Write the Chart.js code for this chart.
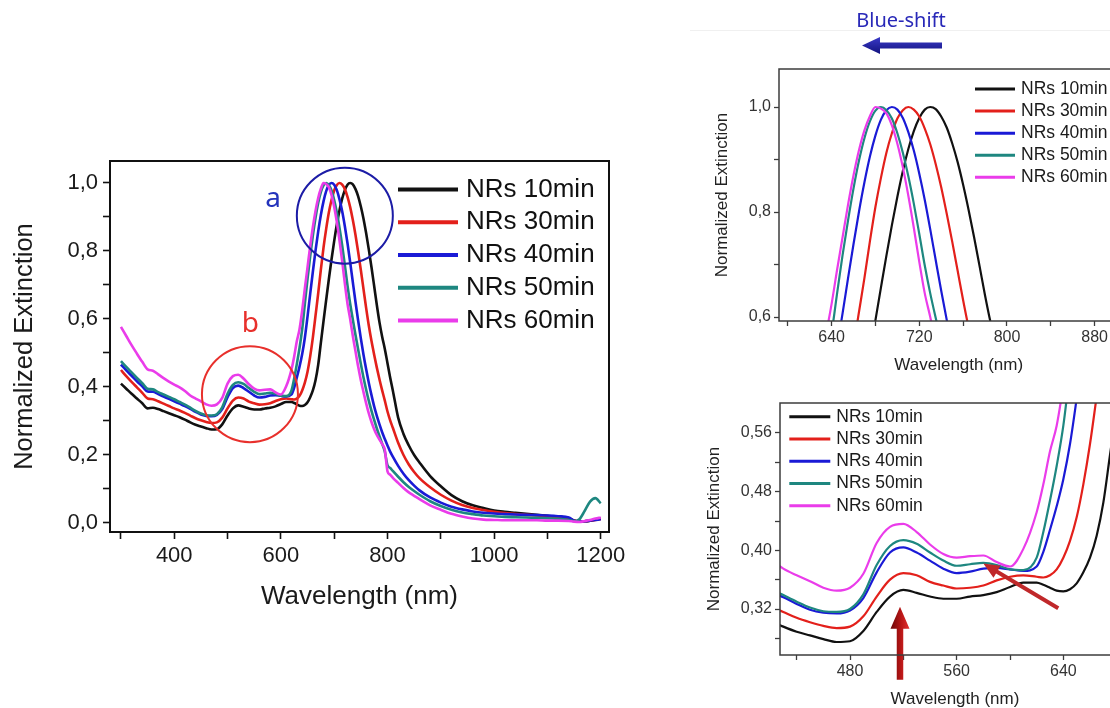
<!DOCTYPE html>
<html>
<head>
<meta charset="utf-8">
<script src="https://cdn.jsdelivr.net/npm/chart.js@4.4.1/dist/chart.umd.min.js"></script>
<style>
  html, body { margin: 0; padding: 0; background: #fff; }
  body { width: 1110px; height: 708px; overflow: hidden; position: relative; }
  .panel { position: absolute; }
  #rule { position: absolute; left: 690px; top: 30px; width: 420px; height: 1px; background: #f0f0f0; }
  #shift { position: absolute; left: 801px; top: 10px; width: 200px; text-align: center;
           font: 20px/20px "Noto Sans", sans-serif; color: #2828b8; }
  #shiftArrow { position: absolute; left: 855px; top: 30px; }
</style>
</head>
<body>
<div id="rule"></div>
<div class="panel" style="left:0;top:120px"><canvas id="main" width="640" height="510"></canvas></div>
<div class="panel" style="left:690px;top:0"><canvas id="peak" width="460" height="390"></canvas></div>
<div class="panel" style="left:690px;top:380px"><canvas id="band" width="460" height="340"></canvas></div>
<div id="shift">Blue-shift</div>
<svg id="shiftArrow" width="95" height="32">
  <defs>
    <linearGradient id="navy" x1="0" y1="0" x2="0" y2="1">
      <stop offset="0" stop-color="#3a3ac8"/>
      <stop offset="1" stop-color="#12127e"/>
    </linearGradient>
  </defs>
  <polygon points="7,15.5 25,7 25,12.5 87,12.5 87,18.5 25,18.5 25,24" fill="url(#navy)"/>
</svg>
<script>
// extinction spectra, normalized to the longitudinal peak
const wavelength = [
  300, 310, 320, 330, 340, 350, 360, 370, 380, 390,
  400, 410, 420, 430, 440, 450, 460, 470, 480, 490,
  500, 510, 520, 530, 540, 550, 560, 570, 580, 590,
  600, 610, 620, 625, 630, 635, 640, 645, 650, 655,
  660, 665, 670, 675, 680, 685, 690, 695, 700, 705,
  710, 715, 720, 725, 730, 735, 740, 745, 750, 755,
  760, 765, 770, 775, 780, 785, 790, 795, 800, 805,
  810, 820, 830, 840, 850, 860, 880, 900, 920, 940,
  960, 980, 1000, 1020, 1040, 1060, 1080, 1100, 1120, 1140,
  1150, 1160, 1170, 1180, 1190, 1200
];

const nrs10 = [
  0.410, 0.395, 0.380, 0.366, 0.352, 0.337, 0.339, 0.335, 0.329, 0.323,
  0.317, 0.311, 0.304, 0.296, 0.289, 0.284, 0.279, 0.275, 0.276, 0.290,
  0.316, 0.337, 0.346, 0.342, 0.337, 0.334, 0.334, 0.337, 0.339, 0.343,
  0.350, 0.356, 0.356, 0.353, 0.349, 0.345, 0.344, 0.347, 0.355, 0.370,
  0.390, 0.420, 0.465, 0.530, 0.594, 0.656, 0.717, 0.775, 0.829, 0.878,
  0.920, 0.954, 0.979, 0.995, 1.000, 0.996, 0.982, 0.961, 0.931, 0.895,
  0.852, 0.804, 0.752, 0.697, 0.641, 0.590, 0.548, 0.512, 0.470, 0.428,
  0.390, 0.310, 0.262, 0.228, 0.200, 0.178, 0.138, 0.108, 0.082, 0.064,
  0.052, 0.044, 0.037, 0.033, 0.030, 0.027, 0.024, 0.021, 0.018, 0.014,
  0.007, 0.004, 0.005, 0.007, 0.010, 0.013
];

const nrs30 = [
  0.450, 0.432, 0.415, 0.399, 0.383, 0.366, 0.364, 0.358, 0.351, 0.344,
  0.337, 0.331, 0.324, 0.316, 0.308, 0.302, 0.297, 0.294, 0.296, 0.310,
  0.337, 0.360, 0.369, 0.366, 0.357, 0.352, 0.348, 0.349, 0.352, 0.359,
  0.364, 0.366, 0.364, 0.363, 0.366, 0.374, 0.390, 0.413, 0.445, 0.490,
  0.545, 0.610, 0.675, 0.745, 0.810, 0.865, 0.913, 0.950, 0.978, 0.994,
  1.000, 0.995, 0.982, 0.959, 0.929, 0.891, 0.847, 0.797, 0.744, 0.688,
  0.632, 0.580, 0.535, 0.495, 0.457, 0.422, 0.390, 0.360, 0.328, 0.302,
  0.280, 0.236, 0.200, 0.172, 0.150, 0.132, 0.105, 0.083, 0.066, 0.053,
  0.044, 0.038, 0.033, 0.029, 0.026, 0.024, 0.022, 0.020, 0.018, 0.014,
  0.007, 0.004, 0.005, 0.007, 0.009, 0.012
];

const nrs40 = [
  0.466, 0.449, 0.433, 0.417, 0.402, 0.387, 0.386, 0.379, 0.372, 0.365,
  0.358, 0.351, 0.344, 0.336, 0.327, 0.319, 0.315, 0.314, 0.318, 0.335,
  0.370, 0.397, 0.404, 0.397, 0.386, 0.375, 0.369, 0.371, 0.375, 0.376,
  0.374, 0.372, 0.378, 0.398, 0.428, 0.460, 0.497, 0.545, 0.607, 0.674,
  0.739, 0.801, 0.857, 0.906, 0.946, 0.976, 0.994, 1.000, 0.995, 0.979,
  0.952, 0.917, 0.873, 0.823, 0.767, 0.708, 0.650, 0.595, 0.543, 0.495,
  0.452, 0.412, 0.376, 0.343, 0.315, 0.290, 0.267, 0.247, 0.228, 0.210,
  0.195, 0.168, 0.145, 0.126, 0.110, 0.096, 0.075, 0.060, 0.048, 0.040,
  0.034, 0.030, 0.028, 0.026, 0.025, 0.024, 0.023, 0.022, 0.020, 0.016,
  0.007, 0.004, 0.005, 0.007, 0.009, 0.011
];

const nrs50 = [
  0.476, 0.459, 0.443, 0.427, 0.411, 0.395, 0.393, 0.385, 0.378, 0.371,
  0.364, 0.356, 0.348, 0.339, 0.330, 0.322, 0.317, 0.316, 0.320, 0.340,
  0.380, 0.406, 0.414, 0.409, 0.397, 0.386, 0.379, 0.381, 0.383, 0.380,
  0.374, 0.373, 0.390, 0.425, 0.468, 0.515, 0.570, 0.645, 0.718, 0.784,
  0.845, 0.898, 0.941, 0.973, 0.993, 1.000, 0.994, 0.978, 0.950, 0.913,
  0.868, 0.816, 0.758, 0.698, 0.645, 0.598, 0.553, 0.510, 0.468, 0.428,
  0.392, 0.359, 0.330, 0.303, 0.278, 0.255, 0.233, 0.210, 0.170, 0.162,
  0.153, 0.136, 0.120, 0.106, 0.094, 0.083, 0.064, 0.050, 0.039, 0.031,
  0.026, 0.022, 0.020, 0.018, 0.017, 0.016, 0.015, 0.014, 0.012, 0.009,
  0.005, 0.011, 0.036, 0.063, 0.073, 0.058
];

const nrs60 = [
  0.577, 0.550, 0.523, 0.498, 0.474, 0.452, 0.448, 0.437, 0.426, 0.416,
  0.407, 0.399, 0.388, 0.375, 0.366, 0.358, 0.349, 0.345, 0.349, 0.368,
  0.410, 0.432, 0.436, 0.425, 0.408, 0.395, 0.390, 0.392, 0.393, 0.384,
  0.378, 0.402, 0.452, 0.490, 0.535, 0.570, 0.625, 0.690, 0.752, 0.814,
  0.870, 0.918, 0.956, 0.983, 1.000, 0.997, 0.988, 0.965, 0.930, 0.885,
  0.831, 0.770, 0.705, 0.645, 0.600, 0.550, 0.505, 0.460, 0.420, 0.385,
  0.352, 0.322, 0.297, 0.276, 0.259, 0.245, 0.232, 0.215, 0.152, 0.142,
  0.133, 0.118, 0.103, 0.090, 0.080, 0.070, 0.052, 0.039, 0.027, 0.019,
  0.013, 0.010, 0.009, 0.008, 0.008, 0.008, 0.008, 0.007, 0.007, 0.006,
  0.004, 0.003, 0.006, 0.009, 0.013, 0.016
];

const series = [nrs10, nrs30, nrs40, nrs50, nrs60];
const seriesLabels = ["NRs 10min", "NRs 30min", "NRs 40min", "NRs 50min", "NRs 60min"];
const seriesColors = ["#111111", "#e3201b", "#1a1ad6", "#1e8780", "#ea3cea"];

// tick positions (major ones get a label)
const mainXMajor = [400, 600, 800, 1000, 1200];
const mainXMinor = [300, 500, 700, 900, 1100];
const mainYMajor = [0, 0.2, 0.4, 0.6, 0.8, 1.0];
const mainYMinor = [0.1, 0.3, 0.5, 0.7, 0.9];
const peakXMajor = [640, 720, 800, 880];
const peakXMinor = [600, 680, 760, 840, 920];
const peakYMajor = [0.6, 0.8, 1.0];
const peakYMinor = [0.7, 0.9];
const bandXMajor = [480, 560, 640];
const bandXMinor = [440, 520, 600, 680];
const bandYMajor = [0.32, 0.40, 0.48, 0.56];
const bandYMinor = [0.28, 0.36, 0.44, 0.52];

const FONT = '"Liberation Sans", Arial, sans-serif';
const comma = d => v => v.toFixed(d).replace(".", ",");

function datasets(width) {
  return series.map((vals, i) => ({
    label: seriesLabels[i],
    data: wavelength.map((w, j) => ({ x: w, y: vals[j] })),
    borderColor: seriesColors[i],
    borderWidth: width,
    pointRadius: 0,
    cubicInterpolationMode: "monotone",
    order: series.length - i,
  }));
}

function axis(o) {
  const all = [...o.major, ...o.minor].sort((a, b) => a - b);
  return {
    type: "linear",
    min: o.min,
    max: o.max,
    afterBuildTicks: s => { s.ticks = all.map(v => ({ value: v })); },
    afterFit: s => { if (o.width) s.width = o.width; if (o.height) s.height = o.height; },
    ticks: {
      autoSkip: false, maxRotation: 0, minRotation: 0,
      padding: o.pad, color: o.tickColor,
      font: { family: FONT, size: o.tickSize },
      callback: v => (o.major.includes(v) ? o.fmt(v) : ""),
    },
    grid: { drawOnChartArea: false, drawTicks: true, tickLength: o.tickLen, tickWidth: o.tickWidth, tickColor: o.line },
    border: { display: false },
    title: {
      display: true, text: o.title, color: o.titleColor,
      font: { family: FONT, size: o.titleSize },
      padding: { top: o.titlePad, bottom: o.titlePad },
    },
  };
}

// box around the plot area
const frame = {
  id: "frame",
  afterDraw(chart, args, opts) {
    const { ctx, chartArea: a } = chart;
    ctx.save();
    ctx.strokeStyle = opts.color;
    ctx.lineWidth = opts.width;
    ctx.strokeRect(a.left, a.top, a.right - a.left, a.bottom - a.top);
    ctx.restore();
  },
};

// legend drawn inside the plot area
const insetLegend = {
  id: "insetLegend",
  afterDatasetsDraw(chart, args, opts) {
    const { ctx, chartArea: a } = chart;
    ctx.save();
    ctx.font = opts.font;
    ctx.textBaseline = "middle";
    ctx.textAlign = "left";
    chart.data.datasets.forEach((ds, i) => {
      const y = a.top + opts.top + i * opts.row;
      const x0 = a.left + opts.left;
      ctx.strokeStyle = ds.borderColor;
      ctx.lineWidth = opts.lineWidth;
      ctx.beginPath();
      ctx.moveTo(x0, y);
      ctx.lineTo(x0 + opts.len, y);
      ctx.stroke();
      ctx.fillStyle = opts.color;
      ctx.fillText(ds.label, x0 + opts.len + opts.gap, y);
    });
    ctx.restore();
  },
};

function drawArrow(ctx, x0, y0, x1, y1, a) {
  const ang = Math.atan2(y1 - y0, x1 - x0);
  const len = Math.hypot(x1 - x0, y1 - y0);
  ctx.save();
  ctx.translate(x0, y0);
  ctx.rotate(ang);
  if (a.shade) {
    const g = ctx.createLinearGradient(0, -a.headW / 2, 0, a.headW / 2);
    g.addColorStop(0, "#6a0606");
    g.addColorStop(0.55, "#b81616");
    g.addColorStop(1, "#e23030");
    ctx.fillStyle = g;
  } else {
    ctx.fillStyle = a.color;
  }
  ctx.beginPath();
  ctx.moveTo(0, -a.shaft / 2);
  ctx.lineTo(len - a.headLen, -a.shaft / 2);
  ctx.lineTo(len - a.headLen, -a.headW / 2);
  ctx.lineTo(len, 0);
  ctx.lineTo(len - a.headLen, a.headW / 2);
  ctx.lineTo(len - a.headLen, a.shaft / 2);
  ctx.lineTo(0, a.shaft / 2);
  ctx.closePath();
  ctx.fill();
  ctx.restore();
}

// rings, letters and arrows placed in data coordinates
const marks = {
  id: "marks",
  afterDatasetsDraw(chart, args, opts) {
    const { ctx, scales: { x, y } } = chart;
    ctx.save();
    (opts.rings || []).forEach(r => {
      ctx.strokeStyle = r.color;
      ctx.lineWidth = r.width;
      ctx.beginPath();
      ctx.arc(x.getPixelForValue(r.x), y.getPixelForValue(r.y), r.radius, 0, Math.PI * 2);
      ctx.stroke();
    });
    (opts.letters || []).forEach(t => {
      ctx.fillStyle = t.color;
      ctx.font = t.font;
      ctx.textAlign = "center";
      ctx.textBaseline = "alphabetic";
      ctx.fillText(t.text, x.getPixelForValue(t.x), y.getPixelForValue(t.y));
    });
    (opts.arrows || []).forEach(a => {
      drawArrow(ctx, x.getPixelForValue(a.from[0]), y.getPixelForValue(a.from[1]),
        x.getPixelForValue(a.to[0]), y.getPixelForValue(a.to[1]), a);
    });
    ctx.restore();
  },
};

function build(id, cfg) {
  return new Chart(document.getElementById(id), {
    type: "line",
    data: { datasets: datasets(cfg.lineWidth) },
    plugins: [frame, insetLegend, marks],
    options: {
      responsive: false,
      animation: false,
      events: [],
      layout: { autoPadding: false, padding: cfg.padding },
      scales: { x: axis(cfg.x), y: axis(cfg.y) },
      plugins: {
        legend: { display: false },
        tooltip: { enabled: false },
        frame: cfg.frame,
        insetLegend: cfg.legend,
        marks: cfg.marks || {},
      },
    },
  });
}

// full spectrum
build("main", {
  lineWidth: 2.6,
  padding: { top: 41, bottom: 18, left: 0, right: 31 },
  frame: { color: "#111", width: 2 },
  x: { min: 279.5, max: 1215.5, major: mainXMajor, minor: mainXMinor, fmt: v => String(v),
       height: 80, pad: 4, tickLen: 7, tickWidth: 1.6, line: "#111", tickColor: "#1a1a1a", tickSize: 22,
       title: "Wavelength (nm)", titleColor: "#1a1a1a", titleSize: 26, titlePad: 0 },
  y: { min: -0.0265, max: 1.0647, major: mainYMajor, minor: mainYMinor, fmt: comma(1),
       width: 110, pad: 5, tickLen: 7, tickWidth: 1.6, line: "#111", tickColor: "#1a1a1a", tickSize: 22,
       title: "Normalized Extinction", titleColor: "#1a1a1a", titleSize: 25.5, titlePad: 10 },
  legend: { left: 288, top: 28.5, row: 32.75, len: 60, gap: 8, lineWidth: 4,
            font: '26px "Liberation Sans", Arial, sans-serif', color: "#111" },
  marks: {
    rings: [
      { x: 720, y: 0.904, radius: 48, color: "#1c1ca6", width: 2 },
      { x: 542, y: 0.379, radius: 48, color: "#e8302c", width: 2 },
    ],
    letters: [
      { text: "a", x: 585.6, y: 0.930, color: "#2434bc", font: '28px "Noto Sans", sans-serif' },
      { text: "b", x: 542.8, y: 0.5626, color: "#e8302c", font: '28px "Noto Sans", sans-serif' },
    ],
  },
});

// longitudinal band close-up
build("peak", {
  lineWidth: 2.2,
  padding: { top: 69, bottom: 9, left: 0, right: 11.5 },
  frame: { color: "#3c3c3c", width: 1.5 },
  x: { min: 592, max: 920, major: peakXMajor, minor: peakXMinor, fmt: v => String(v),
       height: 60, pad: 2, tickLen: 5, tickWidth: 1.3, line: "#3c3c3c", tickColor: "#333", tickSize: 16,
       title: "Wavelength (nm)", titleColor: "#222", titleSize: 17, titlePad: 5.4 },
  y: { min: 0.5924, max: 1.0724, major: peakYMajor, minor: peakYMinor, fmt: comma(1),
       width: 89, pad: 3, tickLen: 5, tickWidth: 1.3, line: "#3c3c3c", tickColor: "#333", tickSize: 16,
       title: "Normalized Extinction", titleColor: "#222", titleSize: 17, titlePad: 22.5 },
  legend: { left: 196, top: 20, row: 22.07, len: 40, gap: 6, lineWidth: 3,
            font: '17.5px "Liberation Sans", Arial, sans-serif', color: "#1a1a1a" },
});

// transverse band close-up
build("band", {
  lineWidth: 2.2,
  padding: { top: 23, bottom: 0, left: 0, right: 20 },
  frame: { color: "#3c3c3c", width: 1.5 },
  x: { min: 427.5, max: 690, major: bandXMajor, minor: bandXMinor, fmt: v => String(v),
       height: 65, pad: 2, tickLen: 5, tickWidth: 1.3, line: "#3c3c3c", tickColor: "#333", tickSize: 16,
       title: "Wavelength (nm)", titleColor: "#222", titleSize: 17, titlePad: 10.4 },
  y: { min: 0.2573, max: 0.6009, major: bandYMajor, minor: bandYMinor, fmt: comma(2),
       width: 90, pad: 3, tickLen: 5, tickWidth: 1.3, line: "#3c3c3c", tickColor: "#333", tickSize: 16,
       title: "Normalized Extinction", titleColor: "#222", titleSize: 17, titlePad: 14.2 },
  legend: { left: 9.3, top: 13.7, row: 22.25, len: 41, gap: 6, lineWidth: 3,
            font: '17.5px "Liberation Sans", Arial, sans-serif', color: "#1a1a1a" },
  marks: {
    arrows: [
      { from: [517.5, 0.2235], to: [517.5, 0.323], shaft: 6.5, headLen: 22, headW: 19, shade: true },
      { from: [636.2, 0.321], to: [580, 0.382], shaft: 4, headLen: 16, headW: 14, color: "#c0282a" },
    ],
  },
});
</script>
</body>
</html>
